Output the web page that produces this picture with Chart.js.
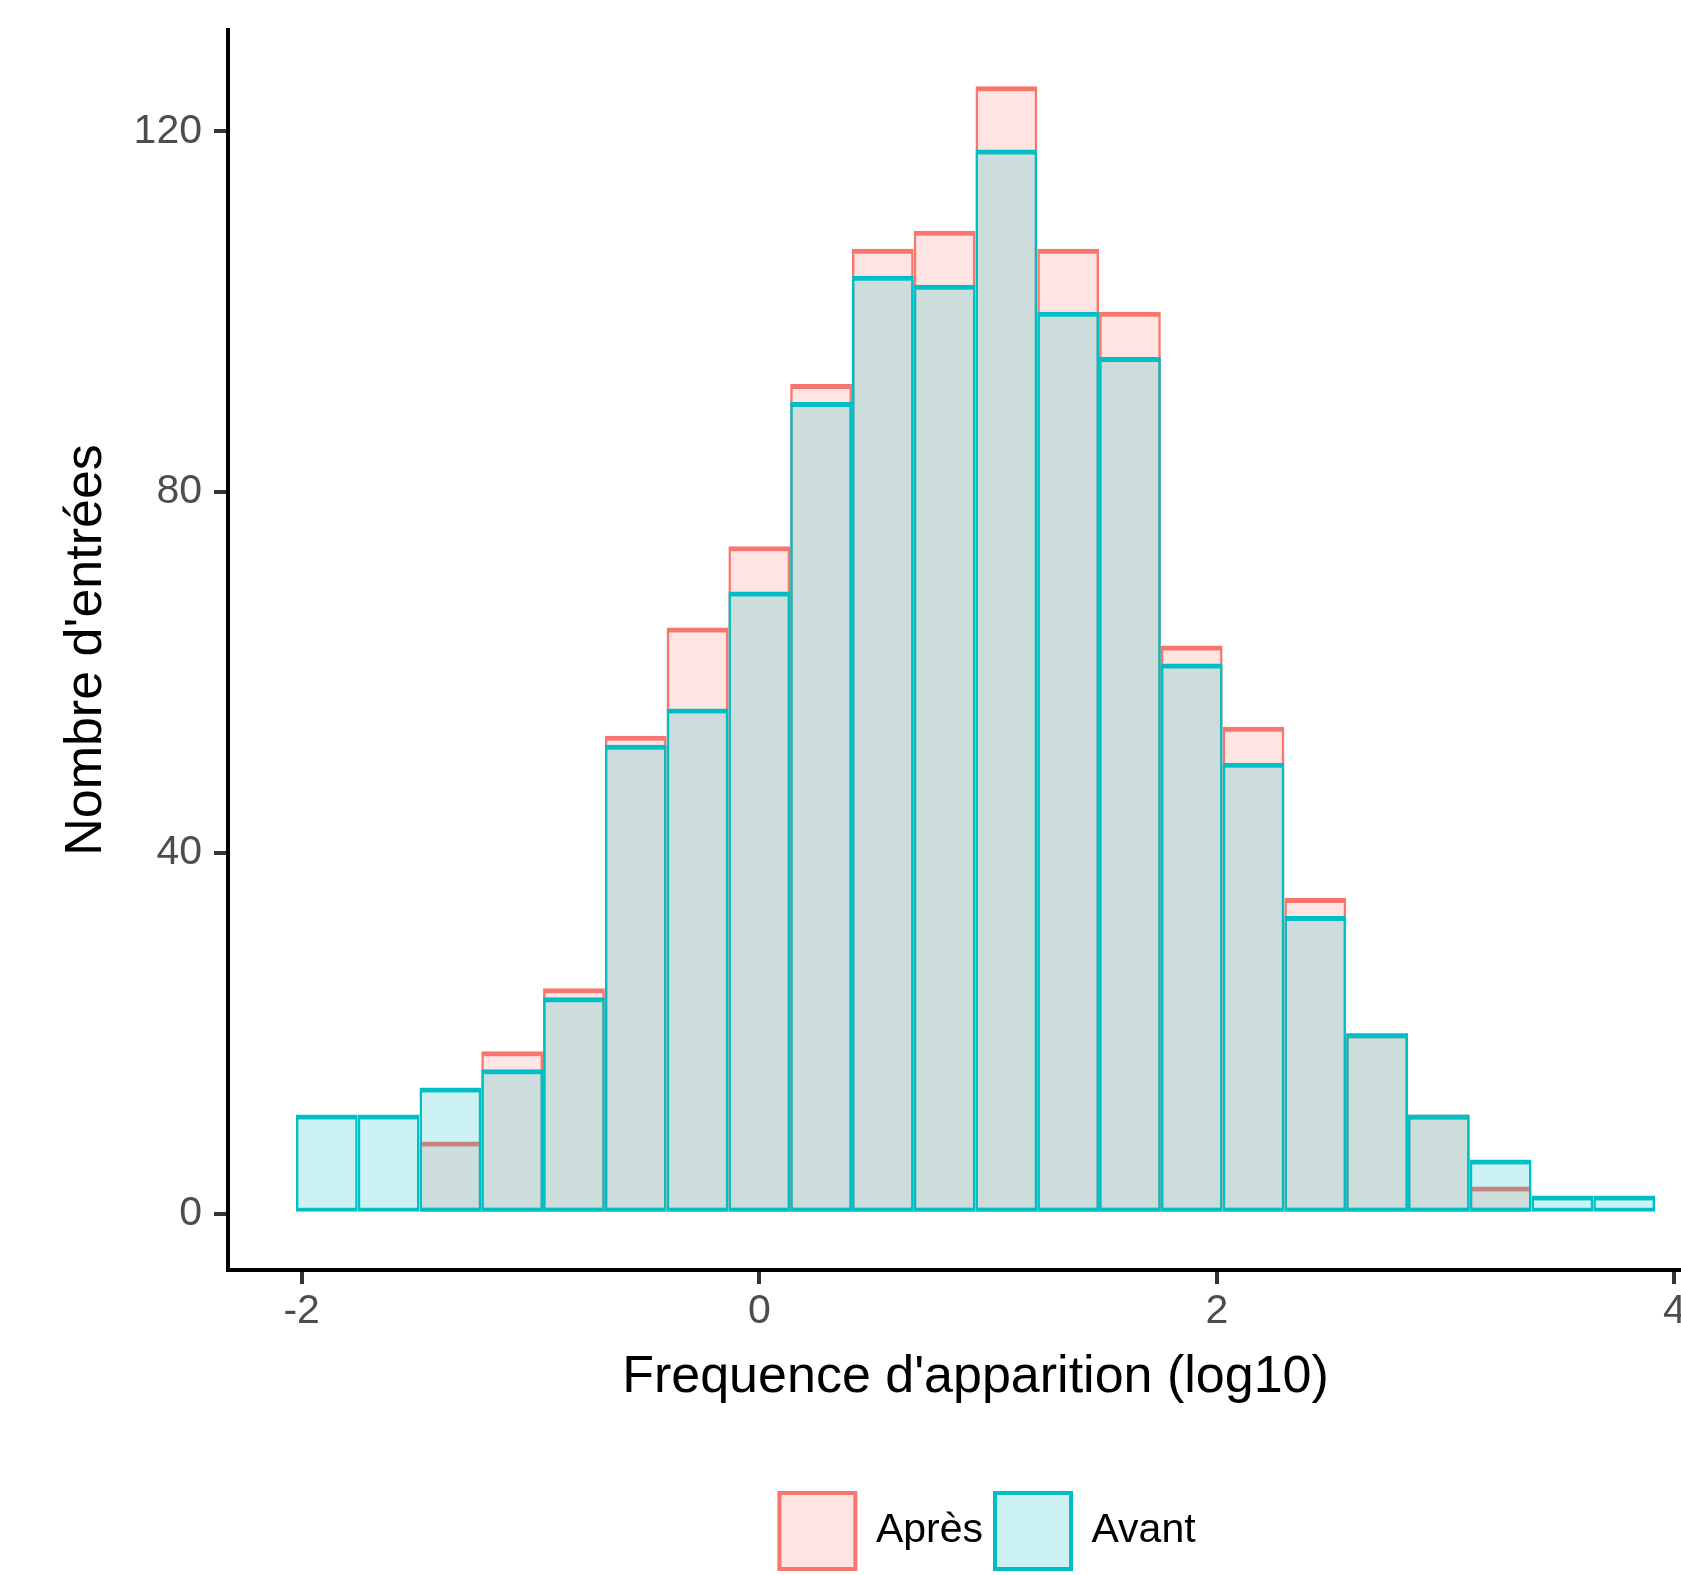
<!DOCTYPE html>
<html>
<head>
<meta charset="utf-8">
<script src="https://cdn.jsdelivr.net/npm/chart.js@4.4.1/dist/chart.umd.min.js"></script>
<style>
html, body { margin: 0; padding: 0; overflow: hidden; background: #ffffff; width: 1681px; height: 1575px; }
#wrap { position: absolute; left: 0; top: 0; width: 1723px; height: 1585px; }
</style>
</head>
<body>
<div id="wrap"><canvas id="c" width="1723" height="1585"></canvas></div>
<script>
// ---- data ----
const binCenters = [-1.89, -1.62, -1.35, -1.08, -0.81, -0.54, -0.27, 0.00, 0.27, 0.54, 0.81,
                     1.08, 1.35, 1.62, 1.89, 2.16, 2.43, 2.70, 2.97, 3.24, 3.51, 3.78];
const apres = [0, 0, 8, 18, 25, 53, 65, 74, 92, 107, 109, 125, 107, 100, 63, 54, 35, 20, 11, 3, 0, 0];
const avant = [11, 11, 14, 16, 24, 52, 56, 69, 90, 104, 103, 118, 100, 95, 61, 50, 33, 20, 11, 6, 2, 2];
const seriesNames = ['Après', 'Avant'];
const xTickValues = [-2, 0, 2, 4];
const yTickValues = [0, 40, 80, 120];
const xTitle = "Frequence d'apparition (log10)";
const yTitle = "Nombre d'entrées";

const FONT = 'Liberation Sans';

function barDataset(label, values, stroke, fill, order) {
  return {
    label: label,
    data: binCenters.map((x, i) => ({ x: x, y: values[i] })),
    backgroundColor: fill,
    borderColor: stroke,
    borderWidth: { top: 5, left: 2.5, right: 2.5, bottom: 4 },
    borderSkipped: false,
    inflateAmount: 0,
    grouped: false,
    barPercentage: 1,
    categoryPercentage: 1,
    order: order
  };
}

// shift the legend a little to the right, as in the reference
const legendShift = {
  id: 'legendShift',
  afterLayout(chart) {
    const lg = chart.legend;
    if (lg) { lg.left += 12; lg.right += 12; }
  }
};

const chart = new Chart(document.getElementById('c'), {
  type: 'bar',
  plugins: [legendShift],
  data: {
    datasets: [
      barDataset(seriesNames[0], apres, '#F8766D', 'rgba(248,118,109,0.2)', 2),
      barDataset(seriesNames[1], avant, '#00BFC4', 'rgba(0,191,196,0.2)', 1)
    ]
  },
  options: {
    responsive: false,
    devicePixelRatio: 1,
    animation: false,
    layout: { padding: { top: 30, left: 0, right: 0, bottom: 6 } },
    scales: {
      x: {
        type: 'linear',
        min: -2.322,
        max: 4.212,
        offset: false,
        afterBuildTicks: (s) => { s.ticks = xTickValues.map(v => ({ value: v })); },
        afterFit: (s) => { s.height = 211; s.paddingLeft = 0; s.paddingRight = 0; },
        grid: { display: true, offset: false, drawOnChartArea: false, drawTicks: true, tickLength: 14, tickColor: '#333333', lineWidth: 4 },
        border: { display: true, color: '#000000', width: 4 },
        ticks: { color: '#4D4D4D', padding: 3, font: { family: FONT, size: 41 }, maxRotation: 0, autoSkip: false,
                 callback: (v) => String(v) },
        title: { display: true, text: xTitle, color: '#000000', font: { family: FONT, size: 52 }, padding: { top: 0, bottom: 72 } }
      },
      y: {
        type: 'linear',
        min: -6.25,
        max: 131.25,
        afterBuildTicks: (s) => { s.ticks = yTickValues.map(v => ({ value: v })); },
        afterFit: (s) => { s.width = 228; s.paddingTop = 0; s.paddingBottom = 0; },
        grid: { display: true, offset: false, drawOnChartArea: false, drawTicks: true, tickLength: 14, tickColor: '#333333', lineWidth: 4 },
        border: { display: true, color: '#000000', width: 4 },
        ticks: { color: '#4D4D4D', padding: 12, font: { family: FONT, size: 41 }, callback: (v) => String(v) },
        title: { display: true, text: yTitle, color: '#000000', font: { family: FONT, size: 52 }, padding: { top: 55, bottom: 0 } }
      }
    },
    plugins: {
      tooltip: { enabled: false },
      legend: {
        position: 'bottom',
        fullSize: false,
        align: 'center',
        labels: {
          boxWidth: 76,
          boxHeight: 76,
          padding: 12,
          color: '#000000',
          font: { family: FONT, size: 41 },
          sort: (a, b) => a.datasetIndex - b.datasetIndex,
          generateLabels: (c) => Chart.defaults.plugins.legend.labels.generateLabels(c).map(l => Object.assign(l, { lineWidth: 4 }))
        }
      }
    }
  }
});
</script>
</body>
</html>
